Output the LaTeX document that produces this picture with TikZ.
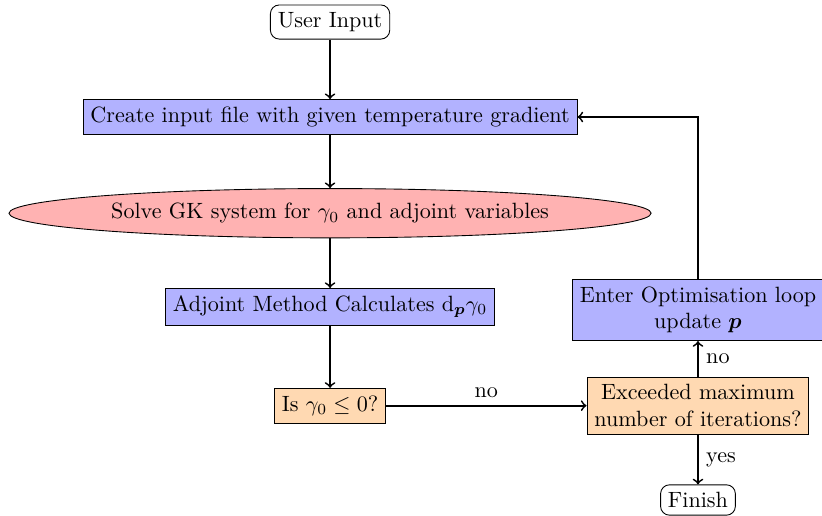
\documentclass[tikz,border=0pt]{standalone}
\usepackage{amsmath}
\usetikzlibrary{positioning}
\usetikzlibrary{shapes.geometric,arrows}
\tikzset{
    startstop/.style={rectangle, rounded corners, draw=black},
    process/.style={rectangle, draw=black, fill=blue!30},
    solver/.style={ellipse, draw=black, fill=red!30, minimum width=10.21cm, minimum height=0.73cm},
    decision/.style={rectangle, draw=black, fill=orange!30},
    arrow/.style={thick,->}
}

\begin{document}
\begin{tikzpicture}
			\useasboundingbox (0,0) rectangle (13.07,-8.19);
			\node[startstop] (input) at (5.248,-0.35) {User Input};
			\node[process] (create) at (5.248,-1.86) {Create input file with given temperature gradient};
			\node[solver] (solve) at (5.248,-3.39) {Solve GK system for $\gamma_0$ and adjoint variables};
			\node[process] (adjoint) at (5.248,-4.88) {Adjoint Method Calculates $\mathrm{d}_{\boldsymbol{p}}\gamma_0$};
			\node[decision] (check) at (5.248,-6.45) {Is $\gamma_0 \leq 0$?};
			\node[decision, align=center] (maxiter) at (11.098,-6.45) {Exceeded maximum\\number of iterations?};
			\node[process, align=center] (optim) at (11.098,-4.93) {Enter Optimisation loop\\update $\boldsymbol{p}$};
			\node[startstop] (finish) at (11.098,-7.95) {Finish};
			\draw[arrow] (input) -- (create);
			\draw[arrow] (create) -- (solve);
			\draw[arrow] (solve) -- (adjoint);
			\draw[arrow] (adjoint) -- (check);
			\draw[arrow] (check) -- node[above]{no} (maxiter);
			\draw[arrow] (maxiter) -- node[right]{no} (optim);
			\draw[arrow] (maxiter) -- node[right]{yes} (finish);
			\draw[arrow] (optim) |- (create);
	\end{tikzpicture}
\end{document}
